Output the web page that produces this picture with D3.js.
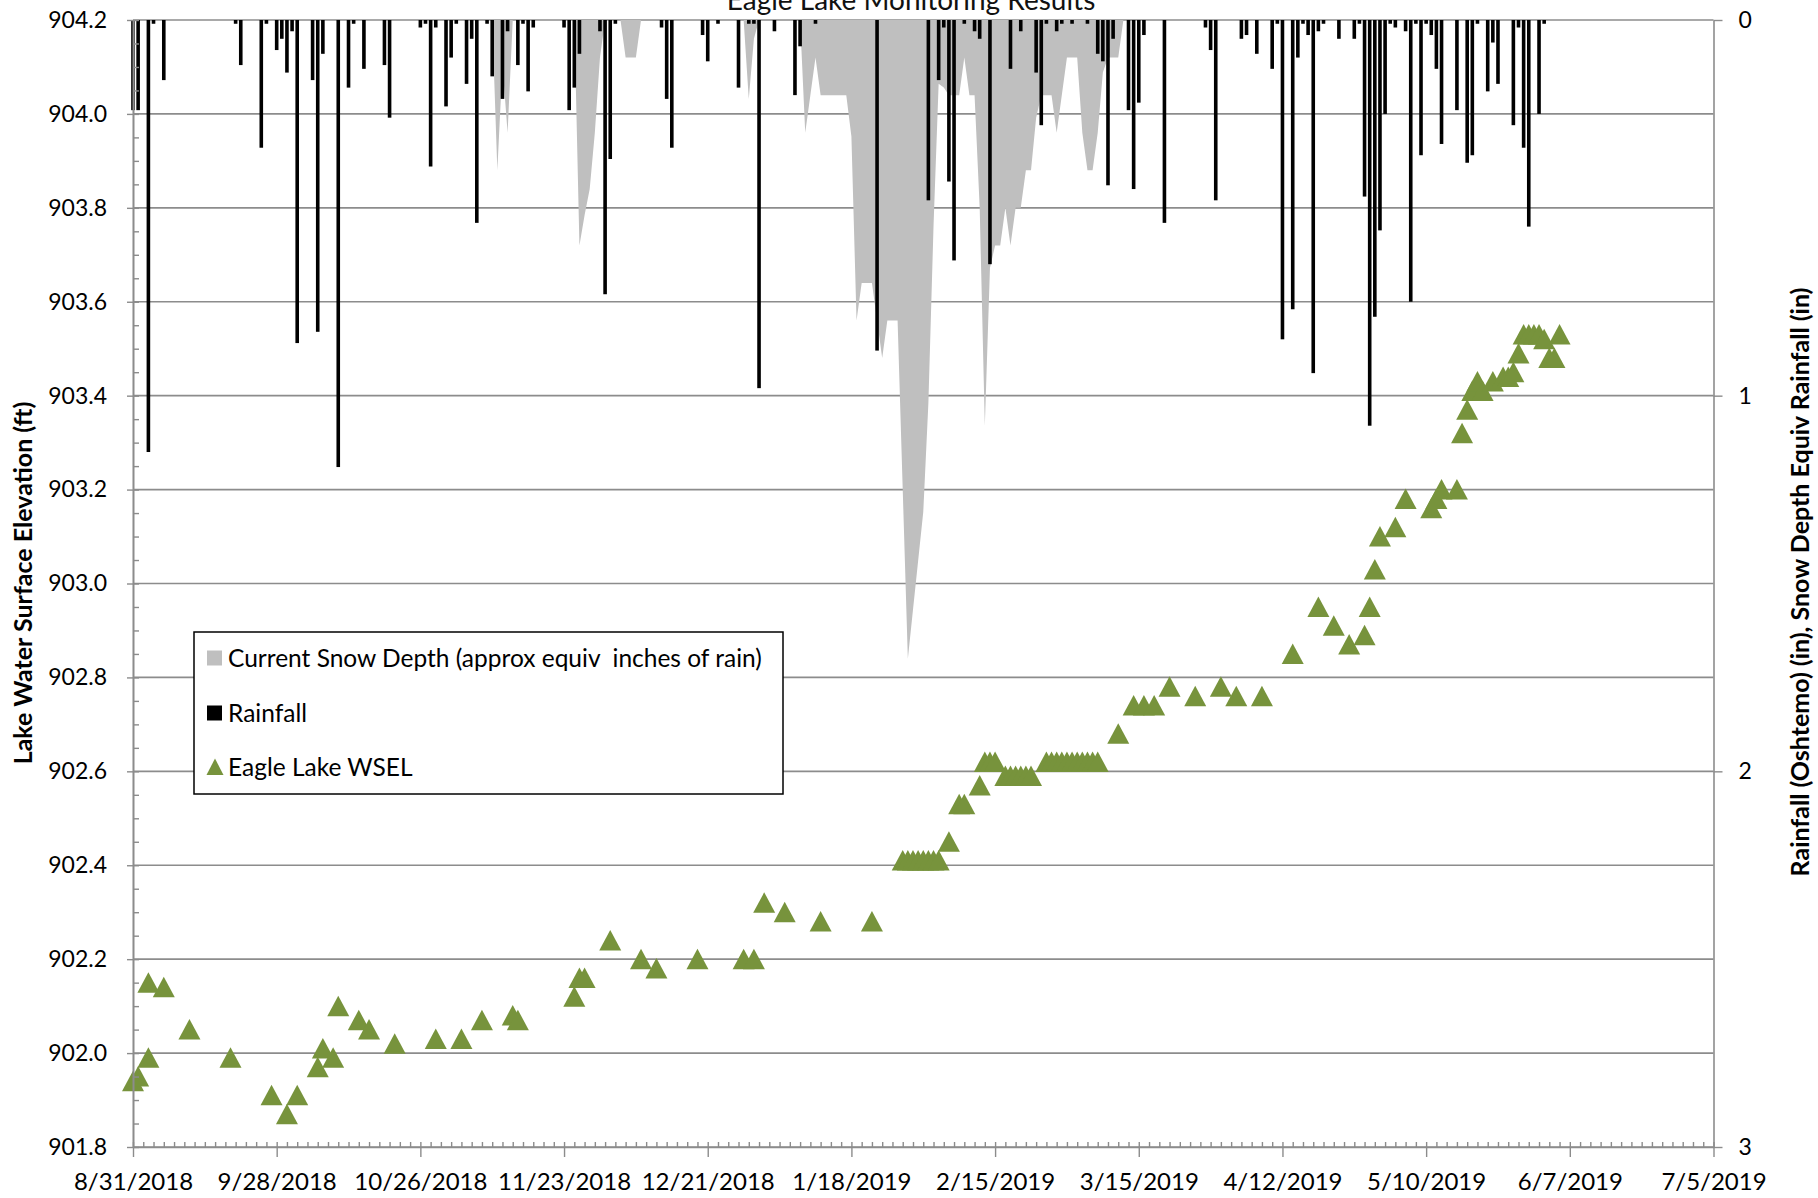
<!DOCTYPE html>
<html><head><meta charset="utf-8">
<script src="https://cdn.jsdelivr.net/npm/d3@7"></script>
<style>
html,body{margin:0;padding:0;background:#fff;}
svg{display:block;font-family:Lato,"Open Sans",sans-serif;}
</style></head><body>
<svg id="chart" width="1818" height="1198"></svg>
<script>
// ---------------- DATA ----------------
const chartTitle = "Eagle Lake Monitoring Results";
const leftTitle = "Lake Water Surface Elevation (ft)";
const rightTitle = "Rainfall (Oshtemo) (in), Snow Depth Equiv Rainfall (in)";
const startDate = "2018-08-31"; // day 0
const endDate = "2019-07-05";

const dateTickLabels = ["8/31/2018","9/28/2018","10/26/2018","11/23/2018","12/21/2018","1/18/2019",
  "2/15/2019","3/15/2019","4/12/2019","5/10/2019","6/7/2019","7/5/2019"];
const leftTicks = [901.8,902.0,902.2,902.4,902.6,902.8,903.0,903.2,903.4,903.6,903.8,904.0,904.2];
const rightTicks = [0,1,2,3];

// daily rainfall (days after 8/31/2018) and inches
const rainDay = [0,1,3,4,6,20,21,25,26,28,29,30,31,32,35,36,37,40,42,43,45,49,50,56,57,58,59,61,62,63,
  65,66,67,69,70,72,73,75,76,77,78,84,85,86,87,91,92,93,94,103,104,105,111,112,114,118,120,121,122,125,
  129,130,133,145,155,157,158,159,160,162,164,165,167,171,173,176,177,178,180,181,183,186,188,189,190,191,
  194,195,196,197,201,209,210,211,216,217,219,222,223,224,226,227,228,229,230,231,232,235,238,239,240,241,
  242,243,244,245,246,248,249,250,251,252,253,254,255,258,260,261,262,264,265,266,269,270,271,272,274,275];
const rainIn = [0.24,0.24,1.15,0.01,0.16,0.01,0.12,0.34,0.01,0.08,0.05,0.14,0.03,0.86,0.16,0.83,0.09,1.19,0.18,0.01,
  0.13,0.12,0.26,0.02,0.01,0.39,0.02,0.23,0.10,0.01,0.17,0.05,0.54,0.01,0.15,0.21,0.03,0.12,0.01,0.19,
  0.02,0.02,0.24,0.18,0.09,0.03,0.73,0.37,0.01,0.02,0.21,0.34,0.04,0.11,0.01,0.18,0.01,0.01,0.98,0.03,
  0.20,0.07,0.01,0.88,0.48,0.16,0.02,0.43,0.64,0.01,0.03,0.05,0.65,0.13,0.03,0.14,0.28,0.01,0.03,0.01,
  0.01,0.01,0.09,0.11,0.44,0.05,0.24,0.45,0.22,0.04,0.54,0.02,0.08,0.48,0.05,0.04,0.09,0.13,0.01,0.85,
  0.77,0.10,0.01,0.04,0.94,0.03,0.01,0.05,0.05,0.01,0.47,1.08,0.79,0.56,0.25,0.01,0.02,0.03,0.75,0.01,
  0.36,0.01,0.04,0.13,0.33,0.24,0.38,0.36,0.01,0.19,0.06,0.17,0.28,0.02,0.34,0.55,0.25,0.01];

// snow depth (approx equiv inches of rain)
const snowDay = [70,71,72,73,74, 86,87,88,89,90,91,92, 95,96,97,98,99, 119,120,121,122,
  130,131,132,133,134,135,136,137,138,139,140,141,142,143,144,145,146,147,148,149,
  150,151,152,153,154,155,156,157,158,159,160,161,162,163,164,165,166,167,168,169,
  170,171,172,173,174,175,176,177,178,179,180,181,182,183,184,185,186,187,188,189,
  190,191,192,193];
const snowIn = [0,0.40,0.12,0.30,0, 0,0.60,0.52,0.45,0.30,0.10,0, 0,0.10,0.10,0.10,0, 0,0.21,0.05,0,
  0,0.30,0.20,0.10,0.20,0.20,0.20,0.20,0.20,0.20,0.31,0.80,0.70,0.70,0.70,0.80,0.90,0.80,0.80,0.80,
  1.25,1.70,1.57,1.44,1.31,1.02,0.55,0.17,0.18,0.20,0.20,0.20,0.10,0.20,0.20,0.50,1.08,0.66,0.60,0.60,
  0.50,0.60,0.50,0.50,0.40,0.40,0.26,0.20,0.20,0.20,0.30,0.20,0.10,0.10,0.10,0.30,0.40,0.40,0.30,0.14,
  0.10,0.10,0.10,0];

// Eagle Lake WSEL (ft)
const lakeDay = [0,1,3,3,6,11,19,27,30,32,36,37,39,40,44,46,51,59,64,68,74,75,86,87,88,93,99,102,110,119,
  121,123,127,134,144,150,151,152,153,154,155,156,157,159,161,162,165,166,167,168,
  170,171,172,173,174,175,178,179,180,181,182,183,184,185,186,187,188,192,195,197,199,
  202,207,212,215,220,226,231,234,237,240,241,242,243,246,248,253,254,255,258,259,
  260,261,262,263,265,267,268,269,270,271,272,273,274,275,276,277,278];
const lakeWsel = [901.94,901.95,901.99,902.15,902.14,902.05,901.99,901.91,901.87,901.91,901.97,902.01,901.99,902.10,902.07,
  902.05,902.02,902.03,902.03,902.07,902.08,902.07,902.12,902.16,902.16,902.24,902.20,902.18,902.20,902.20,
  902.20,902.32,902.30,902.28,902.28,902.41,902.41,902.41,902.41,902.41,902.41,902.41,902.41,902.45,902.53,902.53,
  902.57,902.62,902.62,902.62,902.59,902.59,902.59,902.59,902.59,902.59,902.62,902.62,902.62,902.62,902.62,
  902.62,902.62,902.62,902.62,902.62,902.62,902.68,902.74,902.74,902.74,902.78,902.76,902.78,902.76,902.76,
  902.85,902.95,902.91,902.87,902.89,902.95,903.03,903.10,903.12,903.18,903.16,903.18,903.20,903.20,903.32,
  903.37,903.41,903.43,903.41,903.43,903.44,903.44,903.45,903.49,903.53,903.53,903.53,903.53,903.52,903.48,
  903.48,903.53];

const legendLabels = ["Current Snow Depth (approx equiv  inches of rain)","Rainfall","Eagle Lake WSEL"];

// ---------------- DRAW ----------------
const svg = d3.select("#chart");
const L = 133, R = 1713.5, T = 20, B = 1147;
const gridCol = "#8c8c8c", snowCol = "#bfbfbf", lakeCol = "#77933c";

const parseISO = d3.utcParse("%Y-%m-%d");
const t0 = parseISO(startDate);
const dateOf = d => d3.utcDay.offset(t0, d);
const parseTick = d3.utcParse("%m/%d/%Y");
const tickDates = dateTickLabels.map(parseTick);

const x = d3.scaleUtc().domain([t0, parseISO(endDate)]).range([L, R]);
const yL = d3.scaleLinear().domain([901.8, 904.2]).range([B, T]);
const yR = d3.scaleLinear().domain([0, 3]).range([T, B]);

// gridlines
svg.append("g").selectAll("line").data(leftTicks).join("line")
  .attr("x1", L).attr("x2", R).attr("y1", d => yL(d)).attr("y2", d => yL(d))
  .attr("stroke", gridCol).attr("stroke-width", 1.6);

// snow area
const snow = snowDay.map((d, i) => ({d, v: snowIn[i]}));
svg.append("path").datum(snow)
  .attr("fill", snowCol)
  .attr("d", d3.area().x(p => x(dateOf(p.d))).y0(yR(0)).y1(p => yR(p.v)));

// rainfall bars
const rain = rainDay.map((d, i) => ({d, v: rainIn[i]}));
svg.append("g").selectAll("rect").data(rain).join("rect")
  .attr("x", p => x(dateOf(p.d)) - 1.8).attr("width", 3.6)
  .attr("y", yR(0)).attr("height", p => yR(p.v) - yR(0))
  .attr("fill", "#000");

// WSEL triangles
const tri = "M0,-10.5L11,10L-11,10Z";
const lake = lakeDay.map((d, i) => ({d, v: lakeWsel[i]}));
svg.append("g").selectAll("path").data(lake).join("path")
  .attr("d", tri)
  .attr("transform", p => `translate(${x(dateOf(p.d))},${yL(p.v)})`)
  .attr("fill", lakeCol);

// axes
function styleAxis(g) {
  g.select(".domain").attr("stroke", gridCol).attr("stroke-width", 1.6);
  g.selectAll(".tick line").attr("stroke", gridCol).attr("stroke-width", 1.4);
  g.selectAll("text").attr("fill", "#000").attr("font-family", "Lato");
}
// left major
const gl = svg.append("g").attr("transform", `translate(${L},0)`)
  .call(d3.axisLeft(yL).tickValues(leftTicks).tickFormat(d3.format(".1f")).tickSize(6).tickSizeOuter(0).tickPadding(20));
styleAxis(gl);
gl.selectAll("text").attr("font-size", 23);
// left minor (inside)
const gl2 = svg.append("g").attr("transform", `translate(${L},0)`)
  .call(d3.axisRight(yL).tickValues(d3.range(0, 49).map(i => 901.8 + i * 0.05)).tickFormat("").tickSize(6).tickSizeOuter(0));
styleAxis(gl2);
// bottom
const gb = svg.append("g").attr("transform", `translate(0,${B})`)
  .call(d3.axisBottom(x).tickValues(tickDates).tickFormat(d3.utcFormat("%-m/%-d/%Y")).tickSize(10).tickSizeOuter(0));
styleAxis(gb);
gb.selectAll("text").attr("font-size", 24).attr("y", 43).attr("dy", 0);
const gb2 = svg.append("g").attr("transform", `translate(0,${B})`)
  .call(d3.axisTop(x).tickValues(d3.range(0, 309, 2).map(dateOf)).tickFormat("").tickSize(5).tickSizeOuter(0));
styleAxis(gb2);
gb2.select(".domain").remove();
// right
const gr = svg.append("g").attr("transform", `translate(${R},0)`)
  .call(d3.axisRight(yR).tickValues(rightTicks).tickFormat(d3.format("d")).tickSize(9).tickSizeOuter(0).tickPadding(16));
styleAxis(gr);
gr.selectAll("text").attr("font-size", 23);

// titles
svg.append("text").attr("x", 911).attr("y", 10).attr("text-anchor", "middle")
  .attr("font-size", 28).attr("fill", "#111").text(chartTitle);
svg.append("text").attr("transform", "translate(32,583) rotate(-90)").attr("text-anchor", "middle")
  .attr("font-size", 25).attr("font-weight", "bold").attr("fill", "#000").text(leftTitle);
svg.append("text").attr("transform", "translate(1809,582) rotate(-90)").attr("text-anchor", "middle")
  .attr("font-size", 25).attr("font-weight", "bold").attr("fill", "#000").text(rightTitle);

// legend
const lg = svg.append("g");
lg.append("rect").attr("x", 194).attr("y", 632).attr("width", 589).attr("height", 162)
  .attr("fill", "#fff").attr("stroke", "#000").attr("stroke-width", 1.5);
const rowY = [658, 713, 767];
lg.append("rect").attr("x", 207).attr("y", rowY[0] - 7.5).attr("width", 15).attr("height", 15).attr("fill", snowCol);
lg.append("rect").attr("x", 207).attr("y", rowY[1] - 7.5).attr("width", 15).attr("height", 15).attr("fill", "#000");
lg.append("path").attr("d", "M0,-8.5L8.5,8L-8.5,8Z").attr("transform", `translate(215,${rowY[2]})`).attr("fill", lakeCol);
lg.selectAll("text.lab").data(legendLabels).join("text").attr("class", "lab")
  .attr("x", 228).attr("y", (d, i) => rowY[i]).attr("dy", "0.36em")
  .attr("font-size", 24.5).attr("fill", "#000").style("white-space", "pre").text(d => d);
</script>
</body></html>
